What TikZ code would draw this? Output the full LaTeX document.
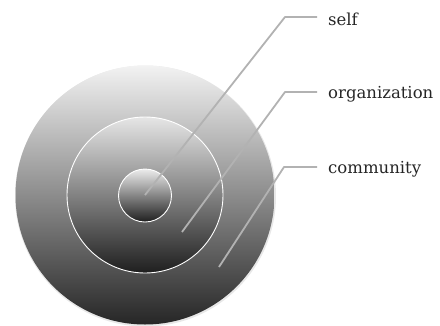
\documentclass[tikz,border=0pt]{standalone}
\usepackage{fontspec}
\setmainfont{DejaVu Serif}
\tikzset{
  ring/.style={draw=white,line width=0.9pt},
  leader/.style={draw=gray!60,line width=1.8pt,line join=round},
  tag/.style={anchor=west,inner sep=0pt,text=black!85,font=\fontsize{16.5}{20}\selectfont}
}
\begin{document}
\begin{tikzpicture}[x=1pt,y=-1pt]
  \useasboundingbox (0,0) rectangle (440,325);
  \fill[gray!18] (145.5,196) circle (130.5);
  \shade[top color=gray!10,bottom color=black!85] (145,195) circle (129.5);
  \shade[ring,top color=gray!20,bottom color=black!88] (145,195) circle (78);
  \shade[ring,top color=gray!15,bottom color=black!88] (145,195.5) circle (26.5);
  \draw
    (328,19) node[tag] (self){self}
    (328,94) node[tag] (org){organization}
    (328,169) node[tag] (comm){community};
  \coordinate (self-tip) at (145,195);
  \coordinate (self-knee) at (285,17);
  \coordinate (self-end) at (317,17);
  \coordinate (org-tip) at (182,232);
  \coordinate (org-knee) at (285,92);
  \coordinate (org-end) at (317,92);
  \coordinate (comm-tip) at (219,267);
  \coordinate (comm-knee) at (284,167);
  \coordinate (comm-end) at (317,167);
  \begin{scope}[leader]
    \draw (self-tip) -- (self-knee) -- (self-end);
    \draw (org-tip) -- (org-knee) -- (org-end);
    \draw (comm-tip) -- (comm-knee) -- (comm-end);
  \end{scope}
\end{tikzpicture}
\end{document}
